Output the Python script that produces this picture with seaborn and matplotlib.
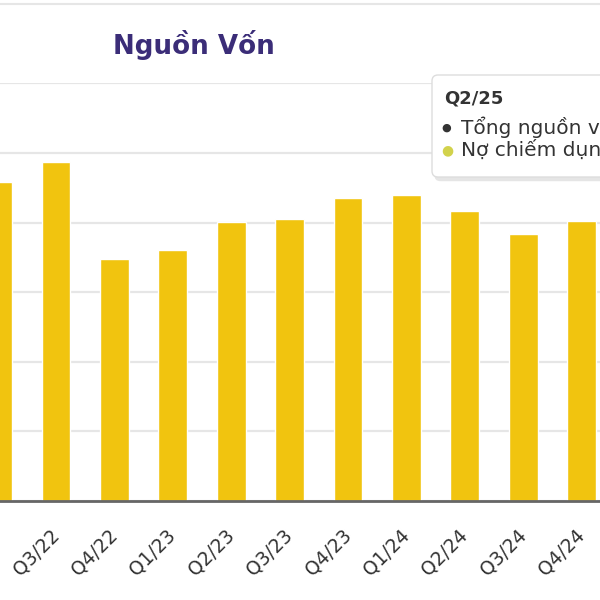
import matplotlib
matplotlib.use("Agg")
import matplotlib.pyplot as plt
from matplotlib.patches import FancyBboxPatch
from matplotlib.lines import Line2D
import seaborn as sns
import pandas as pd

# quarters shown on the axis (Q1/25 and Q2/25 sit past the right edge of the crop)
quarters = ["Q2/22", "Q3/22", "Q4/22", "Q1/23", "Q2/23", "Q3/23",
            "Q4/23", "Q1/24", "Q2/24", "Q3/24", "Q4/24", "Q1/25", "Q2/25"]
# bar heights, in gridline units (no axis labels visible)
bar_quarters = ["Q2/22", "Q3/22", "Q4/22", "Q1/23", "Q2/23", "Q3/23",
                "Q4/23", "Q1/24", "Q2/24", "Q3/24", "Q4/24"]
no_chiem_dung = [4.58, 4.87, 3.48, 3.61, 4.01, 4.05, 4.35, 4.40, 4.17, 3.84, 4.02]

tooltip_title = "Q2/25"
tooltip_items = ["Tổng nguồn vốn", "Nợ chiếm dụng"]
tooltip_dots = ["#333333", "#d2d24c"]

bar_color = "#f1c40f"
title_color = "#3b2d78"

d = pd.DataFrame({"quarter": bar_quarters, "value": no_chiem_dung})

sns.set_style("white")
plt.rcParams["font.family"] = ["DejaVu Sans"]

fig = plt.figure(figsize=(6, 6), dpi=100)
ax = fig.add_axes([0, 0.165, 1, 0.696])

sns.barplot(data=d, x="quarter", y="value", order=quarters, color=bar_color,
            width=0.49, saturation=1, ax=ax)

ax.set_xlim(0.041, 10.315)
ax.set_ylim(0, 6)
ax.set_yticks(range(0, 7))
ax.yaxis.grid(True, color="#e6e6e6", lw=1.6)
ax.set_axisbelow(True)
ax.tick_params(axis="y", left=False, labelleft=False)
ax.tick_params(axis="x", bottom=False, pad=19, labelsize=13.5, labelcolor="#333333")
for lab in ax.get_xticklabels():
    lab.set_rotation(45)
    lab.set_ha("right")
    lab.set_va("center")
    lab.set_rotation_mode("anchor")
ax.set_xlabel("")
ax.set_ylabel("")
for s in ["top", "left", "right"]:
    ax.spines[s].set_visible(False)
ax.spines["bottom"].set_color("#666666")
ax.spines["bottom"].set_linewidth(2)

# card header line and title
fig.add_artist(Line2D([0, 1], [0.994, 0.994], color="#e6e6e6", lw=1.5))
fig.text(0.323, 0.925, "Nguồn Vốn", color=title_color, fontsize=18.8,
         fontweight="bold", ha="center", va="center")

# tooltip box (cut by the right edge, as in the screenshot)
shadow = FancyBboxPatch((0.724, 0.698), 0.4, 0.172, boxstyle="round,pad=0,rounding_size=0.01",
                        transform=fig.transFigure, fc="#d5d5d5", ec="none", alpha=0.6)
box = FancyBboxPatch((0.72, 0.705), 0.4, 0.17, boxstyle="round,pad=0,rounding_size=0.01",
                     transform=fig.transFigure, fc="white", ec="#dddddd", lw=1)
fig.add_artist(shadow)
fig.add_artist(box)
fig.text(0.741, 0.835, tooltip_title, fontsize=13, fontweight="bold",
         color="#333333", va="center")
for i, (item, dc) in enumerate(zip(tooltip_items, tooltip_dots)):
    yy = 0.788 - i * 0.038
    fig.text(0.735, yy, "●", fontsize=8 + 2 * i, color=dc, va="center")
    fig.text(0.769, yy, item, fontsize=14.5, color="#333333", va="center")

fig.savefig("out.png", dpi=100)
